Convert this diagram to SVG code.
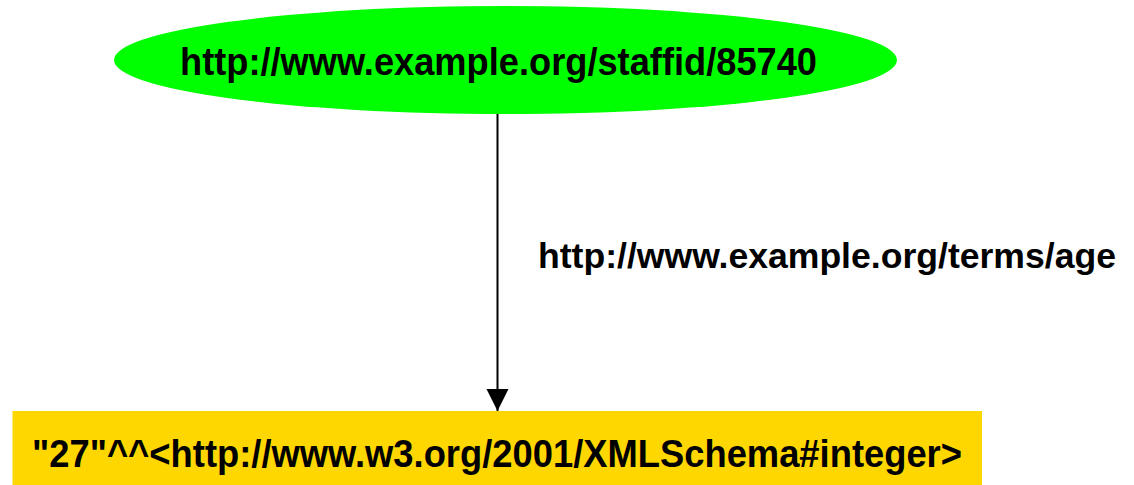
<svg xmlns="http://www.w3.org/2000/svg" width="1134" height="485" viewBox="0 0 1134 485">
  <defs>
    <style>
      .t { font-family: "Liberation Sans", Arial, sans-serif; font-weight: bold; fill: #000; }
      .edge { stroke: #000; stroke-width: 2; fill: none; }
    </style>
    <marker id="arrow" markerUnits="userSpaceOnUse" markerWidth="24" markerHeight="24" refX="22" refY="11" orient="auto">
      <path d="M0,0 L22,11 L0,22 Z" fill="#000"/>
    </marker>
  </defs>
  <rect width="1134" height="485" fill="#fff"/>
  <g id="connectors">
    <line class="edge" x1="497.5" y1="113" x2="497.5" y2="411" marker-end="url(#arrow)"/>
    <text class="t" x="538" y="268" font-size="35.5" textLength="578" lengthAdjust="spacingAndGlyphs">http://www.example.org/terms/age</text>
  </g>
  <g id="node-staff">
    <ellipse cx="505.5" cy="60" rx="391.5" ry="54" fill="#00ff00"/>
    <text class="t" x="180" y="75" font-size="39" textLength="637" lengthAdjust="spacingAndGlyphs">http://www.example.org/staffid/85740</text>
  </g>
  <g id="node-literal">
    <rect x="12.5" y="411" width="969.5" height="80" fill="#ffd700"/>
    <text class="t" x="32" y="467" font-size="39" textLength="930" lengthAdjust="spacingAndGlyphs">"27"^^&lt;http://www.w3.org/2001/XMLSchema#integer&gt;</text>
  </g>
</svg>
